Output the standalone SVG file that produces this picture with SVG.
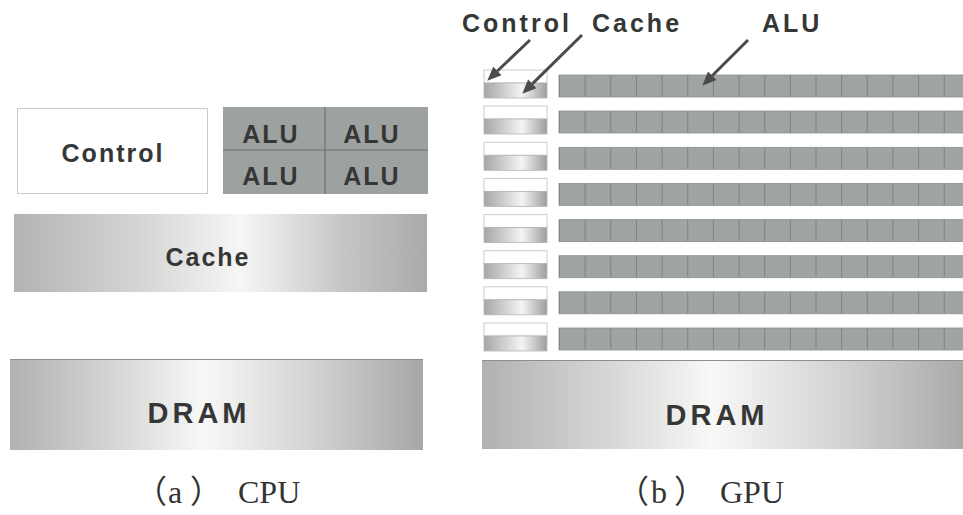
<svg xmlns="http://www.w3.org/2000/svg" width="963" height="515" viewBox="0 0 963 515">
  <style>
    .lbl { font-family: "Liberation Sans", Arial, sans-serif; font-weight: bold; fill: #353736; }
    .cpu { font-size: 25px; letter-spacing: 2px; text-anchor: middle; }
    .top { font-size: 25px; letter-spacing: 3px; }
    .dram { font-size: 29px; letter-spacing: 4px; text-anchor: middle; }
    .cap { font-family: "Liberation Serif", "Times New Roman", "Noto Sans CJK SC", serif; font-size: 32px; fill: #333; }
    .ctrl { fill: #ffffff; stroke: #c9cbca; stroke-width: 1; }
    .alu { fill: #9da2a0; }
    .div { stroke: #6e7371; stroke-width: 1.2; }
    .conn { stroke: #4a4b4b; stroke-width: 3; fill: none; marker-end: url(#ah); }
  </style>
  <defs>
    <marker id="ah" viewBox="0 -6 14 12" markerWidth="14" markerHeight="12" refX="0" refY="0" markerUnits="userSpaceOnUse" orient="auto" overflow="visible">
      <path d="M0,-6 L14,0 L0,6 z" fill="#4a4b4b"/>
    </marker>
    <linearGradient id="gCache" x1="0" y1="0" x2="1" y2="0">
      <stop offset="0" stop-color="#b2b4b2"/>
      <stop offset="0.3" stop-color="#d3d5d3"/>
      <stop offset="0.55" stop-color="#f6f6f5"/>
      <stop offset="0.8" stop-color="#c4c6c4"/>
      <stop offset="1" stop-color="#a9aba9"/>
    </linearGradient>
    <linearGradient id="gDram" x1="0" y1="0" x2="1" y2="0">
      <stop offset="0" stop-color="#b0b2b0"/>
      <stop offset="0.25" stop-color="#d4d6d4"/>
      <stop offset="0.47" stop-color="#f8f8f7"/>
      <stop offset="0.75" stop-color="#cfd1cf"/>
      <stop offset="1" stop-color="#a6a8a6"/>
    </linearGradient>
    <linearGradient id="gCell" x1="0" y1="0" x2="1" y2="0">
      <stop offset="0" stop-color="#a4a7a5"/>
      <stop offset="0.6" stop-color="#f4f4f3"/>
      <stop offset="1" stop-color="#9c9f9d"/>
    </linearGradient>
    <pattern id="pAlu" patternUnits="userSpaceOnUse" x="559" y="0" width="25.65" height="515">
      <rect x="0" y="0" width="25.65" height="515" fill="#a0a5a3"/>
      <rect x="-0.7" y="0" width="1.4" height="515" fill="#6f7472"/>
    </pattern>
    <g id="gpuRow">
      <rect class="ctrl" x="484" y="0" width="63" height="13"/>
      <rect x="484" y="13" width="63" height="15" fill="url(#gCell)" stroke="#b4b6b4" stroke-width="0.8"/>
      <rect x="559" y="5" width="410" height="22" fill="url(#pAlu)" stroke="#8c908e" stroke-width="0.8"/>
    </g>
  </defs>

  <rect x="0" y="0" width="963" height="515" fill="#ffffff"/>

  <!-- CPU -->
  <g id="cpu-control">
    <rect class="ctrl" x="17.5" y="108.5" width="190" height="85"/>
    <text class="lbl cpu" x="113" y="162">Control</text>
  </g>
  <g id="cpu-alu">
    <rect class="alu" x="223" y="107" width="205" height="87"/>
    <line class="div" x1="325" y1="107" x2="325" y2="194"/>
    <line class="div" x1="223" y1="150" x2="428" y2="150" stroke-width="0.8"/>
    <text class="lbl cpu" x="271" y="143">ALU</text>
    <text class="lbl cpu" x="372" y="143">ALU</text>
    <text class="lbl cpu" x="271" y="185">ALU</text>
    <text class="lbl cpu" x="372" y="185">ALU</text>
  </g>
  <g id="cpu-cache">
    <rect x="14" y="214" width="413" height="78" fill="url(#gCache)"/>
    <text class="lbl cpu" x="208" y="266">Cache</text>
  </g>
  <g id="cpu-dram">
    <rect x="10" y="359" width="413" height="91" fill="url(#gDram)"/>
    <line x1="10" y1="359.5" x2="423" y2="359.5" stroke="#8d8f8d" stroke-width="1"/>
    <text class="lbl dram" x="199" y="423">DRAM</text>
  </g>

  <!-- GPU -->
  <g id="gpu-row-1"><use href="#gpuRow" y="70"/></g>
  <g id="gpu-row-2"><use href="#gpuRow" y="106"/></g>
  <g id="gpu-row-3"><use href="#gpuRow" y="142.3"/></g>
  <g id="gpu-row-4"><use href="#gpuRow" y="178.4"/></g>
  <g id="gpu-row-5"><use href="#gpuRow" y="214.6"/></g>
  <g id="gpu-row-6"><use href="#gpuRow" y="250.7"/></g>
  <g id="gpu-row-7"><use href="#gpuRow" y="286.8"/></g>
  <g id="gpu-row-8"><use href="#gpuRow" y="323"/></g>
  <g id="gpu-dram">
    <rect x="482" y="360" width="490" height="89" fill="url(#gDram)"/>
    <line x1="482" y1="360.5" x2="963" y2="360.5" stroke="#8d8f8d" stroke-width="1"/>
    <text class="lbl dram" x="717" y="425">DRAM</text>
  </g>

  <g id="gpu-labels">
    <text class="lbl top" x="462" y="32">Control</text>
    <text class="lbl top" x="592" y="32">Cache</text>
    <text class="lbl top" x="762" y="32">ALU</text>
  </g>

  <g id="connectors">
    <line class="conn" x1="530" y1="40" x2="497.4" y2="71"/>
    <line class="conn" x1="582" y1="35" x2="532.3" y2="83.9"/>
    <line class="conn" x1="748" y1="40" x2="712.2" y2="75.8"/>
  </g>

  <g id="captions">
    <text class="cap" x="135 168 190 238" y="503">（a）CPU</text>
    <text class="cap" x="617 651 674 720" y="503">（b）GPU</text>
  </g>
</svg>
